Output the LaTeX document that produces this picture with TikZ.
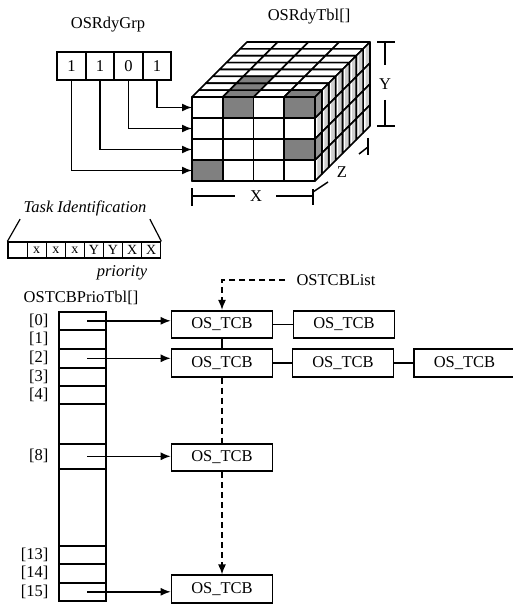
\documentclass[tikz,border=0pt]{standalone}
\usepackage{fontspec}
\setmainfont{Liberation Serif}
\usetikzlibrary{arrows.meta,positioning}
\definecolor{darkcell}{HTML}{808080}
\definecolor{sidecell}{HTML}{CFCFCF}

\begin{document}
\begin{tikzpicture}[x=1pt,y=-1pt,
  every node/.style={font=\fontsize{16.5}{18}\selectfont},
  bitbox/.style={draw,line width=1.7pt,minimum width=28.5pt,minimum height=28pt,inner sep=0pt},
  idbox/.style={draw,line width=1.2pt,minimum width=19.1pt,minimum height=16pt,inner sep=0pt,
                font=\fontsize{14}{14}\selectfont},
  cell/.style={draw,line width=1.6pt,minimum width=47pt,inner sep=0pt,anchor=north west},
  tcb/.style={draw,line width=1.6pt,minimum width=101pt,minimum height=27.5pt,inner sep=0pt},
  cubeline/.style={line width=1.6pt,line join=round},
  arrow/.style={-{Latex[length=10pt,width=8pt]},line width=1.5pt},
  link/.style={line width=1.5pt},
  dashlink/.style={line width=1.5pt,dash pattern=on 6pt off 4pt},
  dim/.style={line width=1.5pt}
]
\useasboundingbox (0,0) rectangle (513,604);
\clip (0,0) rectangle (513,604);

% ready group and ready table
\node (grplabel) at (108,25) {OSRdyGrp};
\node (tbllabel) at (309,17) {OSRdyTbl[]};
\node[bitbox] (b3) at (71.5,66) {1};
\node[bitbox] (b2) at (100,66) {1};
\node[bitbox] (b1) at (128.5,66) {0};
\node[bitbox] (b0) at (157,66) {1};

% cube, back slab first
\foreach \k in {7,...,0}{
  \pgfmathsetmacro\o{\k*6.875}
  \foreach \c in {0,...,3}
    \draw[cubeline,fill=white] ({192+\c*30.75+\o},{97-\o}) -- ++(30.75,0) -- ++(6.875,-6.875) -- ++(-30.75,0) -- cycle;
  \foreach \r in {0,...,3}{
    \fill[sidecell] ({315+\o},{97+\r*21-\o}) -- ++(6.875,-6.875) -- ++(0,21) -- ++(-6.875,6.875) -- cycle;
    \fill[white] ({315+\o},{97+\r*21-\o}) -- ++(2.4,-2.4) -- ++(0,21) -- ++(-2.4,2.4) -- cycle;
    \draw[cubeline] ({315+\o},{97+\r*21-\o}) -- ++(6.875,-6.875) -- ++(0,21) -- ++(-6.875,6.875) -- cycle;
  }
}
\foreach \k/\c in {0/1,1/1,2/1,0/3}{
  \pgfmathsetmacro\o{\k*6.875}
  \draw[cubeline,fill=darkcell] ({192+\c*30.75+\o},{97-\o}) -- ++(30.75,0) -- ++(6.875,-6.875) -- ++(-30.75,0) -- cycle;
}
\foreach \r in {0,2}
  \draw[cubeline,fill=darkcell!85] (315,{97+\r*21}) -- ++(6.875,-6.875) -- ++(0,21) -- ++(-6.875,6.875) -- cycle;
\foreach \r in {0,...,3}
  \foreach \c in {0,...,3}
    \draw[cubeline,fill=white] ({192+\c*30.75},{97+\r*21}) rectangle ++(30.75,21);
\foreach \r/\c in {0/1,0/3,2/3,3/0}
  \draw[cubeline,fill=darkcell] ({192+\c*30.75},{97+\r*21}) rectangle ++(30.75,21);

\coordinate (row0) at (192,107.5);
\coordinate (row1) at (192,128.5);
\coordinate (row2) at (192,149.5);
\coordinate (row3) at (192,170.5);
\draw[arrow] (b0.south) |- (row0);
\draw[arrow] (b1.south) |- (row1);
\draw[arrow] (b2.south) |- (row2);
\draw[arrow] (b3.south) |- (row3);

% X, Y, Z marks
\node (xlab) at (256,196) {X};
\draw[dim] (192,188) -- (192,206);
\draw[dim] (313,189) -- (313,205);
\draw[dim] (192,196) -- (235,196);
\draw[dim] (276,196) -- (313,196);
\node (ylab) at (385,84) {Y};
\draw[dim] (377,42) -- (395,42);
\draw[dim] (377,126) -- (395,126);
\draw[dim] (385,42) -- (385,65);
\draw[dim] (385,100) -- (385,126);
\node (zlab) at (342,172) {Z};
\draw[dim] (313,192) -- (328,182);
\draw[dim] (359,154) -- (368,147);
\draw[dim] (368,138) -- (368,155);

% task identification
\node (tasklabel) at (85,208) {\itshape Task Identification};
\foreach \i/\t in {0/{},1/x,2/x,3/x,4/Y,5/Y,6/X,7/X}
  \node[idbox] (id\i) at ({17.55+\i*19.1},250) {\t};
\draw[link,line width=1.2pt] (id0.north west) -- (tasklabel.south west);
\draw[link,line width=1.2pt] (id7.north east) -- (tasklabel.south east);
\node (prio) at (122,273) {\itshape priority};

% priority table
\node (priolabel) at (81,298) {OSTCBPrioTbl[]};
\foreach \n/\top/\h in {p0/311/18,p1/329/19,p2/348/19,p3/367/18,p4/385/18,g5/403/40,
                        p8/443/25,g9/468/77,p13/545/18,p14/563/19,p15/582/18}
  \node[cell,minimum height=\h pt] (\n) at (58,\top) {};
\foreach \n/\t in {p0/0,p1/1,p2/2,p3/3,p4/4,p8/8,p13/13,p14/14,p15/15}
  \node[left=6pt of \n] (l\n) {[\t]};

% TCB list
\node (list) at (336,280) {OSTCBList};
\node[tcb] (t0) at (222,324.5) {OS\_TCB};
\node[tcb] (t0b) at (344,324.5) {OS\_TCB};
\node[tcb] (t2) at (222,363) {OS\_TCB};
\node[tcb] (t2b) at (343,363) {OS\_TCB};
\node[tcb] (t2c) at (464.5,363) {OS\_TCB};
\node[tcb] (t8) at (222,457.5) {OS\_TCB};
\node[tcb] (t15) at (222,589) {OS\_TCB};

\draw[link] (t0) -- (t0b);
\draw[link] (t2) -- (t2b);
\draw[link] (t2b) -- (t2c);
\draw[link] (t0.south) -- (t2.north);
\draw[dashlink,-{Latex[length=10pt,width=8pt]},shorten <=8pt] (list.west) -| (t0.north);
\draw[dashlink] (t2.south) -- (t8.north);
\draw[dashlink,-{Latex[length=10pt,width=8pt]}] (t8.south) -- (t15.north);

\draw[arrow] ([xshift=5pt]p0.center) -- (p0.center -| t0.west);
\draw[arrow] ([xshift=5pt]p2.center) -- (p2.center -| t2.west);
\draw[arrow] ([xshift=5pt]p8.center) -- (p8.center -| t8.west);
\draw[arrow] ([xshift=5pt]p15.center) -- (p15.center -| t15.west);
\end{tikzpicture}
\end{document}
